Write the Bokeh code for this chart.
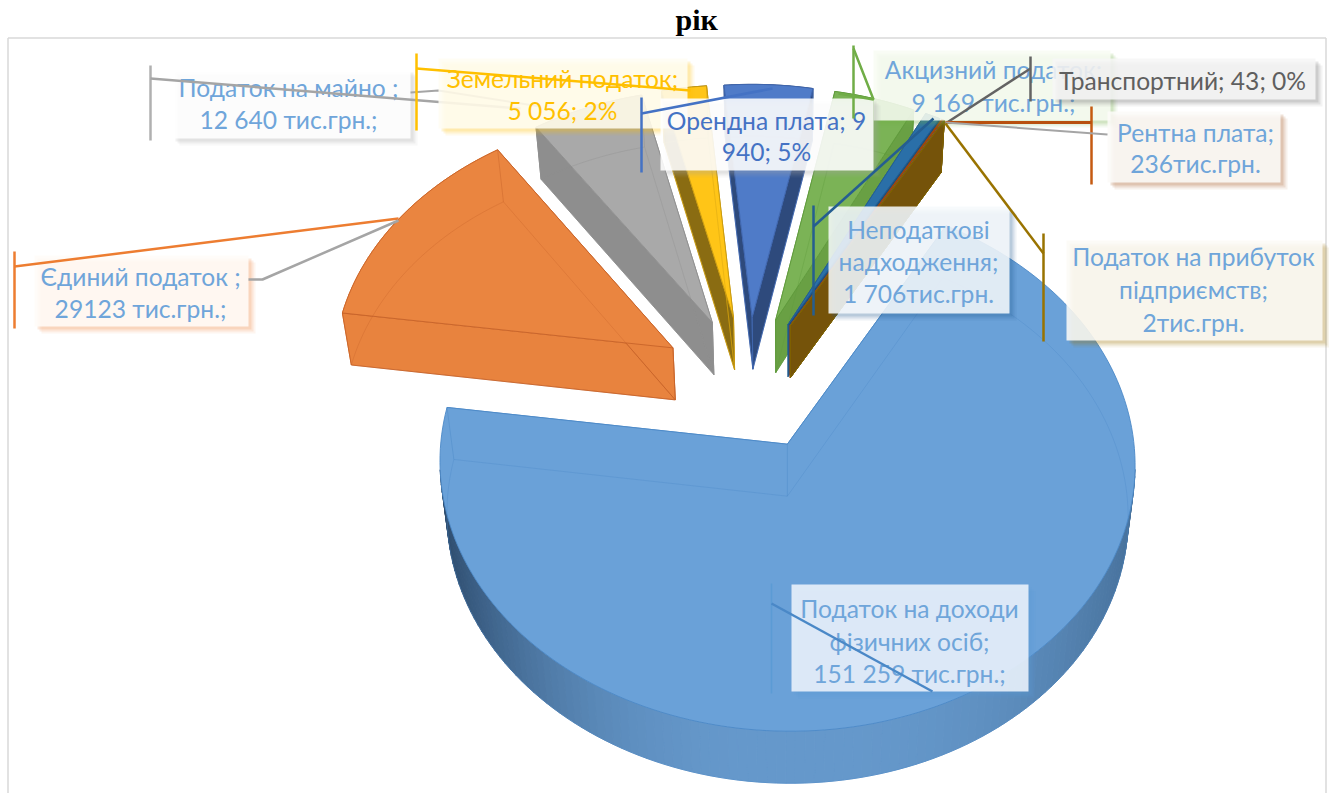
import math
from bokeh.plotting import figure
from bokeh.embed import file_html
from bokeh.resources import INLINE
from bokeh.core.properties import value

# ---- data ----
categories = ["Податок на доходи фізичних осіб", "Єдиний податок", "Податок на майно",
              "Земельний податок", "Орендна плата", "Акцизний податок",
              "Неподаткові надходження", "Рентна плата", "Транспортний",
              "Податок на прибуток підприємств"]
values = [151259, 29123, 12640, 5056, 9940, 9169, 1706, 236, 43, 2]
title_text = "рік"

# ---- styles ----
top_colors = ["#6AA1D8", "#EA8540", "#A9A9A9", "#FFC517", "#4F7BC8", "#7BB356", "#2A6FA8", "#9E480E", "#636363", "#997300"]
wall_colors = ["#6AA1D8", "#E8833E", "#8E8E8E", "#8A6C12", "#2E4A7C", "#69A044", "#1F4E79", "#7A3A0C", "#4A4A4A", "#75530A"]
edge_colors = ["#4C8AC8", "#C8642A", "#909090", "#C99A10", "#3F66AE", "#5F9A3C", "#255E91", "#9E480E", "#636363", "#7F6000"]

# ---- projection of the exploded 3-D pie ----
START = 29.55      # compass angle of the first slice edge
EXPLODE = 0.26
TX, TY, A, B, K = 747.0, 384.5, 341.0, 258.0, 0.07
DEPTH, SHRINK, VX = 52.0, 0.98, 788.0


def proj(u, v):
    w = 1 - K * v
    return TX + A * u / w, TY + B * v / w


def low(pt):
    return VX + SHRINK * (pt[0] - VX), pt[1] + DEPTH


total = sum(values)
spans = [x / total * 360 for x in values]

slices = []
ang = START
for val, sp in zip(values, spans):
    a0, a1 = ang, ang + sp
    mid = math.radians((a0 + a1) / 2)
    ox, oy = EXPLODE * math.sin(mid), -EXPLODE * math.cos(mid)
    n = max(2, int(sp / 1.5) + 2)
    arc = []
    for i in range(n):
        t = math.radians(a0 + (a1 - a0) * i / (n - 1))
        arc.append(proj(ox + math.sin(t), oy - math.cos(t)))
    slices.append((proj(ox, oy), arc))
    ang = a1


def hexmix(c1, c2, t):
    c1 = [int(c1[i:i + 2], 16) for i in (1, 3, 5)]
    c2 = [int(c2[i:i + 2], 16) for i in (1, 3, 5)]
    return "#%02x%02x%02x" % tuple(int(x + (y - x) * t) for x, y in zip(c1, c2))


p = figure(frame_width=1329, frame_height=758, min_border=0, min_border_top=2, x_range=(0, 1329), y_range=(795, 37),
           toolbar_location=None, output_backend="svg", title=title_text)
p.title.align = "left"
p.title.text_font = "Liberation Serif"
p.title.text_font_style = "bold"
p.title.text_font_size = "30px"
p.title.text_color = "#000000"
p.title.offset = 675
p.title.standoff = 0
p.axis.visible = False
p.grid.visible = False
p.outline_line_color = None
p.background_fill_color = "#FFFFFF"

# chart frame
p.multi_line([[7.5, 7.5], [7.5, 1325.5], [1325.5, 1325.5]], [[795, 39.5], [39.5, 39.5], [39.5, 795]],
             line_color="#D9D9D9", line_width=1.5)


def poly(pts, fill, line=None, fa=1.0, la=1.0, lw=1.0):
    p.patch([q[0] for q in pts], [q[1] for q in pts], fill_color=fill, fill_alpha=fa,
            line_color=line, line_alpha=la, line_width=lw)


def wedge(i):
    apex, arc = slices[i]
    top = [apex] + arc
    bot = [low(q) for q in top]
    wall = wall_colors[i]
    edge = edge_colors[i]
    # outer rim
    if i == 0:
        for j in range(len(arc) - 1):
            q = [arc[j], arc[j + 1], low(arc[j + 1]), low(arc[j])]
            if (arc[j][1] + arc[j + 1][1]) / 2 < 470:
                continue
            x = (arc[j][0] + arc[j + 1][0]) / 2
            s = (x - 789) / 348
            if s < 0:
                c = hexmix("#6699CC", "#2F4E70", min(1, (abs(s) ** 2.6)))
            else:
                c = hexmix("#6699CC", "#47719B", min(1, (abs(s) ** 2.6)))
            poly(q, c, c)
    else:
        for j in range(len(arc) - 1):
            poly([arc[j], arc[j + 1], low(arc[j + 1]), low(arc[j])], wall, wall)
    # radial walls
    poly([apex, arc[0], low(arc[0]), low(apex)], wall, edge, 1.0, 0.9)
    poly([apex, arc[-1], low(arc[-1]), low(apex)], wall, edge, 1.0, 0.9)
    # top face
    poly(top, top_colors[i], edge, 1.0, 0.9)
    # lower face seen through the translucent material
    xs = [q[0] for q in bot] + [bot[0][0]]
    ys = [q[1] for q in bot] + [bot[0][1]]
    p.line(xs, ys, line_color=edge, line_alpha=0.35, line_width=1)
    p.line([apex[0], bot[0][0]], [apex[1], bot[0][1]], line_color=edge, line_alpha=0.45)
    p.line([arc[-1][0], bot[-1][0]], [arc[-1][1], bot[-1][1]], line_color=edge, line_alpha=0.45)


for i in [1, 2, 3, 4, 5, 6, 7, 8, 9, 0]:
    wedge(i)

# ---- data-label layout ----
FONT = value("Lato")
SIZE = "24.6px"
label_layout = [
    # box (x0, y0, x1, y1), tint, shadow, text colour, centre x, [(y, line)...]
    ((172, 71, 410, 140), "#FFFFFF", "#A5A5A5", "#6FA5DA", 288, [(89, "Податок на майно ;"), (121, "12 640 тис.грн.;")]),
    ((438, 60, 687, 130), "#FFFDF2", "#FFC000", "#FFC000", 562, [(80, "Земельний податок;"), (112, "5 056; 2%")]),
    ((34, 257, 248, 328), "#FFFBF8", "#ED7D31", "#6FA5DA", 140, [(278, "Єдиний податок ;"), (310, "29123 тис.грн.;")]),
    ((873, 52, 1110, 122), "#F8FBF4", "#70AD47", "#6FA5DA", 993, [(71, "Акцизний податок;"), (104, "9 169 тис.грн.;")]),
    ((660, 100, 873, 172), "#FFFFFF", "#A5A5A5", "#4472C4", 766, [(122, "Орендна плата; 9"), (153, "940; 5%")]),
    ((1052, 60, 1315, 101), "#F6F6F6", "#636363", "#5F5F5F", 1182, [(82, "Транспортний; 43; 0%")]),
    ((1107, 113, 1280, 184), "#FCFAF8", "#9E480E", "#6FA5DA", 1195, [(134, "Рентна плата;"), (165, "236тис.грн.")]),
    ((828, 208, 1009, 315), "#F6F9FC", "#255E91", "#6FA5DA", 918, [(231, "Неподаткові"), (263, "надходження;"), (295, "1 706тис.грн.")]),
    ((1066, 242, 1322, 342), "#FBFAF6", "#997300", "#6FA5DA", 1193, [(258, "Податок на прибуток"), (291, "підприємств;"), (324, "2тис.грн.")]),
    ((791, 586, 1028, 693), "#EEF4FB", "#5B9BD5", "#6FA5DA", 909, [(610, "Податок на доходи"), (643, "фізичних осіб;"), (675, "151 259 тис.грн.;")]),
]

# leaders of the first label run underneath the next label's box
under_leaders = [
    ([150, 150], [67, 142], "#B0B0B0", 2.5),
    ([150, 520], [80, 110], "#A5A5A5", 2.5),
    ([410, 438, 540], [94, 92, 108], "#A5A5A5", 2),
]
leaders = [
    ([416, 416], [55, 132], "#FFC000", 2.5),
    ([416, 690], [70, 92], "#FFC000", 2.5),
    ([641, 641], [99, 174], "#4472C4", 2.5),
    ([641, 772], [115, 90], "#4472C4", 2.5),
    ([853, 853], [47, 120], "#70AD47", 2.5),
    ([853, 873, 838], [50, 101, 95], "#70AD47", 2.5),
    ([1030, 1030], [58, 103], "#636363", 2.5),
    ([1030, 945], [70, 125], "#636363", 2.5),
    ([1091, 1091], [108, 186], "#C55A11", 2.5),
    ([1091, 945], [124, 124], "#B8500F", 3),
    ([945, 1107], [124, 136], "#A5A5A5", 2),
    ([813, 813], [207, 317], "#255E91", 2.5),
    ([813, 933], [228, 120], "#255E91", 2.5),
    ([1043, 1043], [235, 343], "#997300", 2.5),
    ([1043, 945], [255, 125], "#997300", 2.5),
    ([14, 14], [253, 330], "#ED7D31", 2.5),
    ([14, 398], [268, 220], "#ED7D31", 2.5),
    ([248, 262, 398], [281, 281, 222], "#A5A5A5", 2.5),
    ([771, 771], [585, 695], "#5B9BD5", 1.5),
    ([771, 932], [605, 693], "#4A88C7", 2.5),
]


def draw_leaders(items):
    for xs, ys, col, lw in items:
        p.line(xs, ys, line_color=col, line_width=lw)


for n, ((x0, y0, x1, y1), tint, shadow, tcol, cx, lines) in enumerate(label_layout):
    for d, al in ((7, 0.08), (5, 0.12), (3, 0.16)):
        p.quad(left=x0 + d, right=x1 + d, top=y0 + d, bottom=y1 + d, fill_color=shadow, fill_alpha=al, line_color=None)
    p.quad(left=x0, right=x1, top=y0, bottom=y1, fill_color=tint, fill_alpha=0.87, line_color=None)
    p.text(x=[cx] * len(lines), y=[q[0] for q in lines], text=[q[1] for q in lines], text_font=FONT,
           text_font_size=SIZE, text_color=tcol, text_align="center", text_baseline="middle")
    if n == 0:
        draw_leaders(under_leaders)

draw_leaders(leaders)

open("out.html", "w").write(file_html(p, INLINE))
